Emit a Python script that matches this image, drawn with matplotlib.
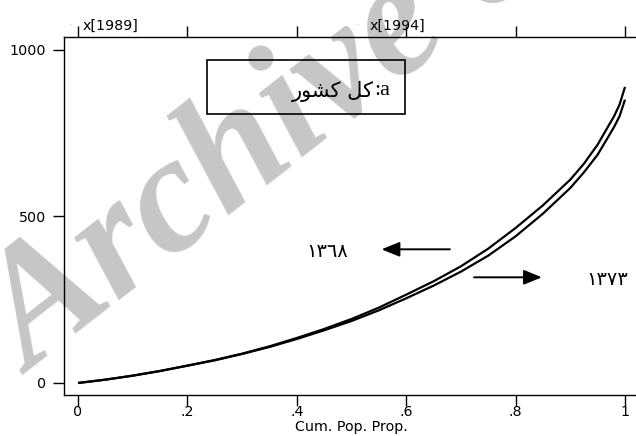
import matplotlib
matplotlib.use("Agg")
import matplotlib.pyplot as plt

# ---- data ----
pop_prop = [0, .05, .1, .15, .2, .25, .3, .35, .4, .45, .5, .55, .6, .65,
            .7, .75, .8, .85, .9, .925, .95, .97, .98, .99, 1.0]
glc_1368 = [0, 10, 22, 36, 52, 69, 88, 110, 135, 162, 192, 226, 265, 305,
            350, 403, 465, 533, 610, 658, 715, 772, 800, 835, 888]
glc_1373 = [0, 10, 22, 36, 52, 68, 87, 108, 132, 158, 186, 218, 254, 292,
            334, 382, 440, 508, 585, 632, 685, 740, 768, 800, 850]

x_ticks = [0, .2, .4, .6, .8, 1]
x_tick_labels = ["0", ".2", ".4", ".6", ".8", "1"]
y_ticks = [0, 500, 1000]
y_tick_labels = ["0", "500", "1000"]
top_labels = ["x[1989]", "x[1994]"]
x_label = "Cum. Pop. Prop."
# visual-order Persian text with presentation forms: "کل کشور"
box_arabic = "\uFEAD\uFEEE\uFEB8\uFB90 \uFEDE\uFB90"
box_latin = ":a"
label_1368 = "\u0661\u0663\u0666\u0668"
label_1373 = "\u0661\u0663\u0667\u0663"

FS = 10.3
SANS = "DejaVu Sans"

fig = plt.figure(figsize=(6.36, 4.36), dpi=100)

# watermark
fig.text(0.6525, 0.945, "Archive of SID", rotation=38, fontsize=120,
         family="Liberation Serif", style="italic", weight="bold",
         color="#c6c6c6", ha="center", va="center", zorder=0)

ax = fig.add_axes([64/636, 41/436, 572/636, 358.3/436])
ax.set_facecolor("none")
ax.set_zorder(2)

ax.plot(pop_prop, glc_1368, color="black", lw=1.6, solid_capstyle="butt")
ax.plot(pop_prop, glc_1373, color="black", lw=1.6, solid_capstyle="butt")

ax.set_xlim(-0.0256, 1.0201)
ax.set_ylim(-36, 1038.7)

ax.spines["right"].set_visible(False)
for s in ["left", "top", "bottom"]:
    ax.spines[s].set_linewidth(1.0)

ax.set_xticks(x_ticks)
ax.set_xticklabels(x_tick_labels)
ax.set_yticks(y_ticks)
ax.set_yticklabels(y_tick_labels)
ax.tick_params(axis="x", direction="out", length=8, width=1, pad=-1,
               labelsize=FS, top=True, labeltop=False)
ax.tick_params(axis="y", direction="out", length=8, width=1, pad=5,
               labelsize=FS)
for lab in ax.get_xticklabels() + ax.get_yticklabels():
    lab.set_family(SANS)
fig.text(351/636, 1 - 427/436, x_label, fontsize=FS, family=SANS,
         ha="center", va="center")

# top-axis labels
fig.text(111/636, 1 - 26/436, top_labels[0], fontsize=FS,
         family=SANS, ha="center", va="center")
fig.text(397/636, 1 - 26/436, top_labels[1], fontsize=FS,
         family=SANS, ha="center", va="center")
fig.text(71/636, 1 - 25/436, "\u00b7", fontsize=4, color="#444444",
         ha="center", va="center")
fig.text(357/636, 1 - 25/436, "\u00b7", fontsize=4, color="#444444",
         ha="center", va="center")

# annotation box
ax.add_patch(plt.Rectangle((0.236, 807), 0.598 - 0.236, 969 - 807,
                           fill=False, edgecolor="black", lw=1.2))
ax.text(0.571, 878, box_latin, fontsize=16, family="Liberation Serif",
        ha="right", va="center")
ax.text(0.541, 875, box_arabic, fontsize=15, family="DejaVu Sans",
        ha="right", va="center")

# arrows and year labels
arrow_style = "-|>,head_length=1.1,head_width=0.45"
ax.annotate("", xy=(0.555, 401), xytext=(0.680, 401),
            arrowprops=dict(arrowstyle=arrow_style, color="black", lw=1.4,
                            shrinkA=0, shrinkB=0))
ax.annotate("", xy=(0.848, 317), xytext=(0.724, 317),
            arrowprops=dict(arrowstyle=arrow_style, color="black", lw=1.4,
                            shrinkA=0, shrinkB=0))
ax.text(0.456, 394, label_1368, fontsize=14, family="DejaVu Sans",
        ha="center", va="center")
ax.text(0.930, 309, label_1373, fontsize=14, family="DejaVu Sans",
        ha="left", va="center")

fig.savefig("out.png", dpi=100)
